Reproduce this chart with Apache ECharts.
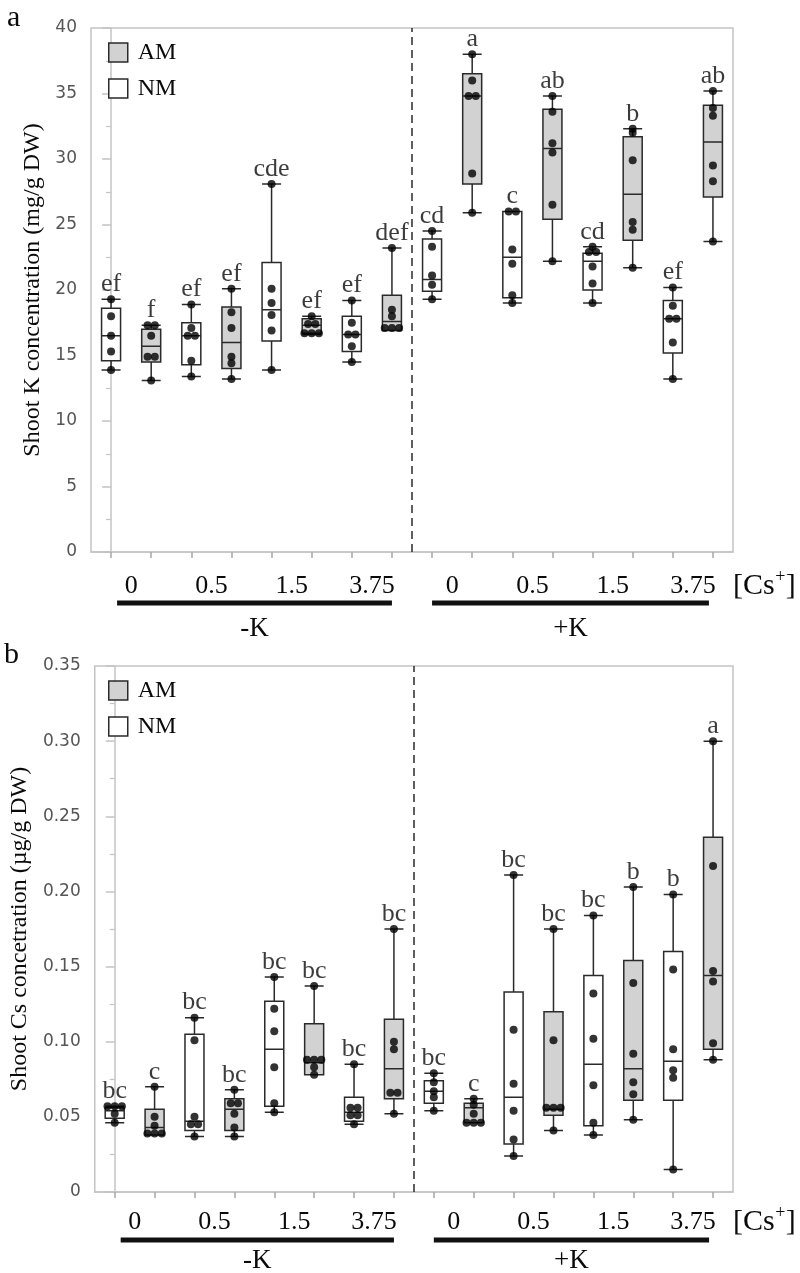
<!DOCTYPE html>
<html><head><meta charset="utf-8">
<script src="https://cdn.jsdelivr.net/npm/echarts/dist/echarts.min.js"></script>
<style>html,body{margin:0;padding:0;background:#fff}#c{width:800px;height:1273px}</style>
</head><body><div id="c"></div>
<script>
// ---------------- DATA ----------------
const kGroups = ['-K', '+K'];
const csLevels = ['0', '0.5', '1.5', '3.75'];
const csTickLabels = ['0', '0.5', '1.5', '3.75', '0', '0.5', '1.5', '3.75'];
const treatment = ['NM','AM','NM','AM','NM','AM','NM','AM','NM','AM','NM','AM','NM','AM','NM','AM'];
const boxIds = ['-K0NM','-K0AM','-K0.5NM','-K0.5AM','-K1.5NM','-K1.5AM','-K3.75NM','-K3.75AM',
                '+K0NM','+K0AM','+K0.5NM','+K0.5AM','+K1.5NM','+K1.5AM','+K3.75NM','+K3.75AM'];

// Panel a: shoot K (mg/g DW)  [min, Q1, median, Q3, max]
const kBox = [
  [13.9, 14.6, 16.5, 18.6, 19.3],
  [13.1, 14.5, 15.7, 17.0, 17.3],
  [13.4, 14.3, 16.5, 17.5, 18.9],
  [13.2, 14.0, 16.0, 18.7, 20.1],
  [13.9, 16.1, 18.5, 22.1, 28.1],
  [16.6, 16.7, 17.3, 17.8, 18.0],
  [14.5, 15.3, 16.6, 18.0, 19.2],
  [16.9, 16.9, 17.6, 19.6, 23.2],
  [19.3, 19.9, 20.8, 23.9, 24.5],
  [25.9, 28.1, 34.8, 36.5, 38.0],
  [19.0, 19.4, 22.5, 26.0, 26.0],
  [22.2, 25.4, 30.8, 33.8, 34.8],
  [19.0, 20.0, 22.2, 22.8, 23.3],
  [21.7, 23.8, 27.3, 31.7, 32.3],
  [13.2, 15.2, 17.8, 19.2, 20.2],
  [23.7, 27.1, 31.3, 34.1, 35.2]
];
const kDots = [
  [19.3, 18.0, 16.5, 15.3, 13.9],
  [17.3, 17.3, 16.5, 14.9, 14.9, 13.1],
  [18.9, 17.1, 16.5, 16.5, 14.6, 13.4],
  [20.1, 18.3, 17.1, 14.9, 14.4, 13.2],
  [28.1, 20.1, 19.0, 18.1, 16.9, 13.9],
  [18.0, 17.4, 17.4, 16.7, 16.7, 16.7],
  [19.2, 17.5, 16.6, 16.6, 15.7, 14.5],
  [23.2, 18.5, 18.0, 17.1, 17.1, 17.1],
  [24.5, 23.3, 21.1, 20.4, 19.3],
  [38.0, 36.0, 34.8, 34.8, 28.9, 25.9],
  [26.0, 26.0, 23.1, 22.0, 19.6, 19.0],
  [34.8, 33.6, 31.2, 30.5, 26.5, 22.2],
  [23.3, 22.9, 22.9, 21.8, 20.5, 19.0],
  [32.3, 32.0, 29.9, 25.2, 24.6, 21.7],
  [20.2, 18.8, 17.8, 17.8, 16.0, 13.2],
  [35.2, 33.9, 33.3, 29.5, 28.3, 23.7]
];
const kLetters = ['ef','f','ef','ef','cde','ef','ef','def','cd','a','c','ab','cd','b','ef','ab'];

// Panel b: shoot Cs (µg/g DW)
const csBox = [
  [0.046, 0.049, 0.054, 0.056, 0.057],
  [0.038, 0.038, 0.043, 0.055, 0.070],
  [0.037, 0.041, 0.047, 0.105, 0.116],
  [0.037, 0.041, 0.055, 0.062, 0.068],
  [0.053, 0.057, 0.095, 0.127, 0.143],
  [0.078, 0.078, 0.086, 0.112, 0.137],
  [0.045, 0.047, 0.053, 0.063, 0.085],
  [0.052, 0.062, 0.082, 0.115, 0.175],
  [0.054, 0.059, 0.067, 0.074, 0.079],
  [0.046, 0.046, 0.056, 0.059, 0.062],
  [0.024, 0.032, 0.063, 0.133, 0.211],
  [0.041, 0.051, 0.055, 0.120, 0.175],
  [0.038, 0.044, 0.085, 0.144, 0.184],
  [0.048, 0.061, 0.082, 0.154, 0.203],
  [0.015, 0.061, 0.087, 0.160, 0.198],
  [0.088, 0.095, 0.144, 0.236, 0.300]
];
const csDots = [
  [0.057, 0.057, 0.057, 0.052, 0.046],
  [0.070, 0.050, 0.044, 0.039, 0.039, 0.039],
  [0.116, 0.101, 0.050, 0.045, 0.045, 0.037],
  [0.068, 0.059, 0.059, 0.052, 0.043, 0.037],
  [0.143, 0.122, 0.107, 0.083, 0.059, 0.053],
  [0.137, 0.088, 0.088, 0.088, 0.083, 0.078],
  [0.085, 0.056, 0.056, 0.051, 0.051, 0.045],
  [0.175, 0.100, 0.095, 0.066, 0.066, 0.052],
  [0.079, 0.073, 0.067, 0.063, 0.054],
  [0.062, 0.058, 0.052, 0.046, 0.046, 0.046],
  [0.211, 0.108, 0.072, 0.054, 0.035, 0.024],
  [0.175, 0.101, 0.056, 0.056, 0.056, 0.041],
  [0.184, 0.132, 0.102, 0.071, 0.046, 0.038],
  [0.203, 0.139, 0.092, 0.073, 0.065, 0.048],
  [0.198, 0.148, 0.095, 0.081, 0.076, 0.015],
  [0.300, 0.217, 0.147, 0.140, 0.099, 0.088]
];
const csLetters = ['bc','c','bc','bc','bc','bc','bc','bc','bc','c','bc','bc','bc','b','b','a'];

// ---------------- STYLE / BUILD ----------------
const SERIF = '"Liberation Serif", "Times New Roman", serif';
const SANS = '"DejaVu Sans", sans-serif';
const TXT = '#0a0a0a';
const AXC = '#c4c4c4';
const AMFILL = '#d2d2d2';

function dotPoints(dots) {
  const out = [];
  dots.forEach((vals, i) => {
    const counts = {}, seen = {};
    vals.forEach(v => counts[v] = (counts[v] || 0) + 1);
    vals.forEach(v => {
      const n = counts[v], k = (seen[v] = (seen[v] || 0)); seen[v]++;
      out.push([i + (k - (n - 1) / 2) * 0.18, v]);
    });
  });
  return out;
}

const panels = [
  {top: 28, height: 524, box: kBox, dots: kDots, letters: kLetters, min: 0, max: 40, interval: 5,
   name: 'Shoot K concentration (mg/g DW)', nameGap: 42, labelMargin: 21,
   fmt: v => String(v)},
  {top: 666, height: 526, box: csBox, dots: csDots, letters: csLetters, min: 0, max: 0.35, interval: 0.05,
   name: 'Shoot Cs concetration (µg/g DW)', nameGap: 58, labelMargin: 17,
   fmt: v => v === 0 ? '0' : v.toFixed(2)}
];

const grid = [], xAxis = [], yAxis = [], series = [], legend = [];
panels.forEach((p, pi) => {
  grid.push({left: 91, top: p.top, width: 642, height: p.height, show: true,
    borderColor: AXC, borderWidth: 1.5, backgroundColor: 'transparent'});
  xAxis.push({gridIndex: pi, type: 'category', data: boxIds, position: 'bottom', boundaryGap: true,
    axisLine: {show: true, lineStyle: {color: AXC, width: 1.5}},
    axisTick: {show: true, alignWithLabel: true, interval: 0, length: 6, lineStyle: {color: '#a8a8a8', width: 1.5}},
    axisLabel: {show: false}, splitLine: {show: false}});
  xAxis.push({gridIndex: pi, type: 'category', data: csTickLabels, position: 'bottom', boundaryGap: true,
    axisLine: {show: false}, axisTick: {show: false}, splitLine: {show: false},
    axisLabel: {interval: 0, margin: p.labelMargin, fontFamily: SERIF, fontSize: 26, color: TXT}});
  xAxis.push({gridIndex: pi, type: 'value', min: -0.5, max: 15.5, show: false});
  yAxis.push({gridIndex: pi, type: 'value', min: p.min, max: p.max, interval: p.interval,
    name: p.name, nameLocation: 'middle', nameRotate: 90, nameGap: p.nameGap,
    nameTextStyle: {fontFamily: SERIF, fontSize: 24, color: TXT},
    axisLine: {show: true, lineStyle: {color: AXC, width: 1.5}},
    axisTick: {show: true, length: 9, lineStyle: {color: AXC, width: 1.5}},
    minorTick: {show: true, splitNumber: 2, length: 5, lineStyle: {color: AXC, width: 1.2}},
    splitLine: {show: false}, minorSplitLine: {show: false},
    axisLabel: {margin: 14, fontFamily: SANS, fontSize: 17, color: '#555', formatter: p.fmt}});
  const xi = pi * 3;
  series.push({type: 'boxplot', xAxisIndex: xi, yAxisIndex: pi, boxWidth: [19, 19], silent: true, z: 2,
    itemStyle: {borderColor: '#333', borderWidth: 1.5},
    data: p.box.map((v, i) => ({value: v, itemStyle: {color: treatment[i] === 'AM' ? AMFILL : '#fff', borderColor: '#2a2a2a', borderWidth: 1.5}}))});
  series.push({type: 'scatter', xAxisIndex: xi + 2, yAxisIndex: pi, symbolSize: 8, silent: true, z: 4,
    itemStyle: {color: '#000'}, data: dotPoints(p.dots),
    markLine: {silent: true, symbol: 'none', label: {show: false},
      lineStyle: {type: [8, 5], color: '#2a2a2a', width: 1.5}, data: [{xAxis: 7.5}]}});
  series.push({type: 'scatter', xAxisIndex: xi + 2, yAxisIndex: pi, symbolSize: 0, silent: true, z: 5,
    data: p.box.map((b, i) => ({value: [i, b[4]], name: p.letters[i]})),
    label: {show: true, position: 'top', distance: 2, formatter: '{b}', fontFamily: SERIF, fontSize: 26, color: TXT}});
  legend.push({data: ['AM', 'NM'], orient: 'vertical', left: 103, top: p.top + 7.5, itemWidth: 19, itemHeight: 19,
    itemGap: 12, icon: 'rect', selectedMode: false,
    itemStyle: {borderColor: '#2a2a2a', borderWidth: 1.5},
    textStyle: {fontFamily: SERIF, fontSize: 24, color: TXT, lineHeight: 24, padding: [0, 0, 0, 5]}});
});
series.push({type: 'bar', name: 'AM', data: [], xAxisIndex: 0, yAxisIndex: 0, itemStyle: {color: AMFILL, borderColor: '#2a2a2a', borderWidth: 1.5}});
series.push({type: 'bar', name: 'NM', data: [], xAxisIndex: 0, yAxisIndex: 0, itemStyle: {color: '#fff', borderColor: '#2a2a2a', borderWidth: 1.5}});

const chart = echarts.init(document.getElementById('c'), null, {renderer: 'canvas'});
chart.setOption({animation: false, backgroundColor: '#fff', grid, xAxis, yAxis, series, legend});

// Annotations below axes (group bars, K labels, [Cs+]) positioned via axis scales
const ctx = document.createElement('canvas').getContext('2d');
function tw(t, size) { ctx.font = size + 'px "Liberation Serif"'; return ctx.measureText(t).width; }
const graphics = [];
const annY = [{tick: 586, bar: 603, k: 629}, {tick: 1222, bar: 1240, k: 1261}];
panels.forEach((p, pi) => {
  const xa = pi * 3 + 2;
  const ranges = [[0.15, 7.0], [8.0, 14.9]];
  ranges.forEach((r, gi) => {
    const x1 = chart.convertToPixel({xAxisIndex: xa}, r[0]);
    const x2 = chart.convertToPixel({xAxisIndex: xa}, r[1]);
    graphics.push({type: 'rect', shape: {x: x1, y: annY[pi].bar - 2.5, width: x2 - x1, height: 5}, style: {fill: '#111'}, silent: true});
    graphics.push({type: 'text', x: (x1 + x2) / 2, y: annY[pi].k, silent: true,
      style: {text: kGroups[gi], fill: TXT, font: '27px ' + SERIF, textAlign: 'center', textVerticalAlign: 'middle'}});
  });
  const cx = 733, cy = annY[pi].tick;
  const w1 = tw('[Cs', 30), w2 = tw('+', 18);
  graphics.push({type: 'text', x: cx, y: cy, silent: true, style: {text: '[Cs', fill: TXT, font: '30px ' + SERIF, textAlign: 'left', textVerticalAlign: 'middle'}});
  graphics.push({type: 'text', x: cx + w1 + 0.5, y: cy - 9, silent: true, style: {text: '+', fill: TXT, font: '18px ' + SERIF, textAlign: 'left', textVerticalAlign: 'middle'}});
  graphics.push({type: 'text', x: cx + w1 + w2 + 1, y: cy, silent: true, style: {text: ']', fill: TXT, font: '30px ' + SERIF, textAlign: 'left', textVerticalAlign: 'middle'}});
});
graphics.push({type: 'text', x: 7, y: 18, silent: true, style: {text: 'a', fill: TXT, font: '30px ' + SERIF, textAlign: 'left', textVerticalAlign: 'middle'}});
graphics.push({type: 'text', x: 4, y: 655, silent: true, style: {text: 'b', fill: TXT, font: '30px ' + SERIF, textAlign: 'left', textVerticalAlign: 'middle'}});
chart.setOption({graphic: graphics});
</script></body></html>
